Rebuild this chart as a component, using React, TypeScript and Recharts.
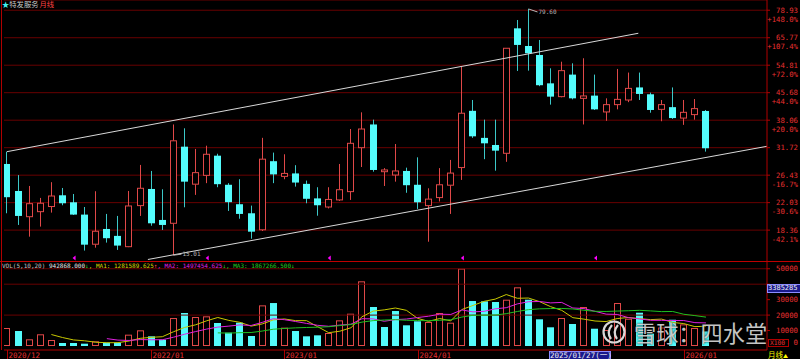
import React from "react";
import {
  ComposedChart,
  Bar,
  Line,
  XAxis,
  YAxis,
  CartesianGrid,
  ReferenceLine,
  ReferenceDot,
} from "recharts";

// monthly candles, 2020/12 .. 2026/03
const opens = [
  28.47, 23.8, 20.07, 20.75, 21.47, 23.13, 22.08, 20.35, 16.72, 18.5, 17.67, 16.45, 21.6, 24.12, 19.64, 19.21,
  31.93, 24.9, 26.4, 30.08, 24.8, 21.8, 20.53, 18.4, 29.0, 26.22, 26.74, 24.95, 22.66, 21.4, 22.43, 23.7,
  31.72, 37.0, 27.05, 26.46, 27.18, 24.8, 21.6, 22.78, 24.73, 27.8, 40.5, 33.85, 32.29, 30.56, 70.0, 62.26,
  58.66, 48.6, 44.5, 51.5, 44.0, 44.8, 40.2, 42.2, 43.52, 47.3, 45.2, 40.9, 41.5, 38.6, 39.5, 40.46,
];
const highs = [
  30.89, 26.45, 24.6, 22.73, 25.23, 24.28, 23.33, 21.4, 23.76, 20.44, 20.17, 23.8, 28.29, 27.18, 24.07, 37.0,
  36.07, 31.45, 32.14, 30.47, 25.07, 25.73, 21.6, 33.86, 30.7, 30.36, 28.24, 25.5, 24.4, 24.4, 28.47, 35.9,
  40.1, 38.2, 27.7, 32.5, 27.78, 29.75, 24.23, 27.7, 29.24, 54.29, 43.52, 38.2, 38.2, 61.33, 73.98, 79.6,
  64.79, 53.7, 56.1, 55.5, 57.4, 51.5, 44.0, 53.47, 52.2, 52.2, 45.7, 43.52, 47.3, 43.52, 43.8, 40.73,
];
const lows = [
  20.53, 19.0, 17.58, 18.79, 20.62, 21.65, 20.3, 16.03, 16.34, 16.9, 16.1, 16.4, 20.17, 18.9, 18.38, 15.55,
  21.36, 23.19, 25.07, 24.4, 20.85, 19.8, 17.34, 18.25, 25.07, 25.73, 24.5, 21.94, 20.2, 21.2, 22.28, 22.43,
  27.9, 27.05, 24.6, 25.32, 23.52, 21.13, 17.0, 22.2, 20.44, 25.61, 33.85, 29.39, 27.23, 28.88, 52.76, 52.87,
  47.7, 42.2, 44.3, 43.7, 37.0, 40.73, 37.9, 40.9, 42.9, 43.52, 40.0, 37.8, 38.4, 36.9, 38.2, 30.9,
];
const closes = [
  22.84, 20.17, 21.88, 21.94, 23.02, 21.94, 20.35, 16.67, 18.22, 17.4, 16.57, 21.55, 24.23, 19.21, 19.0, 33.2,
  25.32, 26.88, 30.36, 24.9, 22.1, 20.44, 18.17, 29.39, 26.57, 26.74, 25.17, 22.6, 21.65, 22.5, 24.0, 32.65,
  35.9, 27.36, 27.36, 27.18, 24.73, 22.08, 22.55, 24.8, 26.8, 39.86, 34.2, 32.65, 31.1, 61.33, 62.7, 59.32,
  48.0, 44.5, 52.87, 44.0, 44.7, 40.9, 42.2, 43.7, 47.0, 45.3, 40.73, 42.2, 38.6, 40.1, 41.1, 31.6,
];

// volume in x100 shares
const volumes = [
  11650, 9700, 4330, 7570, 3880, 1940, 1940, 1500, 3020, 2160, 2160, 7330, 10140, 6260, 4100, 18100,
  21350, 18760, 19200, 14880, 8620, 15100, 6470, 26300, 27800, 11860, 9700, 6260, 6900, 8410, 16600, 20900,
  41860, 25230, 12290, 22640, 13390, 15980, 15530, 21350, 15080, 50100, 29100, 28900, 28470, 29960, 37970, 29960,
  17270, 12100, 18110, 14230, 25230, 11190, 10350, 27820, 17660, 21540, 8000, 12000, 17000, 14000, 11650, 9430,
];
const volUp = [
  1, 0, 1, 1, 1, 0, 0, 0, 1, 0, 0, 1, 1, 0, 0, 1, 0, 1, 1, 0, 0, 0, 0, 1, 0, 1, 0, 0, 0, 1, 1, 1,
  1, 0, 0, 0, 0, 0, 1, 1, 1, 1, 0, 0, 0, 1, 1, 0, 0, 0, 1, 0, 1, 0, 1, 1, 1, 0, 0, 1, 0, 1, 1, 0,
];
const ma5 = [
  null, null, null, null, 7426, 5484, 3932, 3366, 2456, 2112, 2156, 3234, 4962, 5610, 5998, 9186,
  11990, 13714, 16302, 18458, 16562, 15312, 12854, 14274, 16858, 17506, 16426, 16384, 12504, 8626, 9574, 11814,
  18934, 22600, 23376, 24584, 23082, 17906, 15966, 17778, 16266, 23608, 26232, 28906, 30330, 33306, 30880, 31052,
  28726, 25452, 23082, 18334, 17388, 16172, 15822, 17764, 18450, 17712, 17074, 17404, 15240, 14508, 12530, 12816,
];
const ma10 = [
  null, null, null, null, null, null, null, null, null, 4769, 3820, 3583, 4164, 4033, 4055, 5671,
  7612, 9338, 10956, 12228, 12874, 13651, 13284, 15288, 17658, 17034, 15869, 14619, 13389, 12742, 13540, 14120,
  17659, 17552, 16001, 17079, 17448, 18420, 19283, 20577, 20425, 23345, 22069, 22436, 24054, 24786, 27244, 28642,
  28816, 27891, 28194, 24607, 24220, 22449, 20637, 20423, 18392, 17550, 16623, 16613, 16502, 16479, 15121, 14945,
];
const ma20 = [
  null, null, null, null, null, null, null, null, null, null, null, null, null, null, null, null,
  null, null, null, 8499, 8347, 8617, 8724, 9661, 10857, 11353, 11741, 11979, 12173, 12485, 13207, 13886,
  15472, 16420, 16830, 17057, 16659, 16520, 16336, 16660, 16983, 18733, 19864, 19994, 20028, 20933, 22346, 23531,
  24050, 24234, 24310, 23976, 23145, 22443, 22346, 22605, 22818, 23096, 22720, 22252, 22348, 20543, 19671, 18697,
];

const priceTicks = [18.36, 22.03, 26.43, 31.72, 38.06, 45.68, 54.81, 65.77, 78.93];
const pctLabels = ["-42.1%", "-30.6%", "-16.7%", "", "+20.0%", "+44.0%", "+72.0%", "+107.4%", "+148.0%"];
const volTicks = [0, 10000, 20000, 30000, 40000, 50000];
const hiddenVolLabel = 40000; // covered by the crosshair readout
const volGrid = [20000, 40000, 50000];
const dateTicks = [0, 13, 25, 37, 61];
const dateLabels = ["2020/12", "2022/01", "2023/01", "2024/01", "2026/01"];
const channelUpper = [
  { x: 0, y: 30.89 },
  { x: 56.9, y: 67.74 },
];
const channelLower = [
  { x: 12.7, y: 15.11 },
  { x: 68.5, y: 32.01 },
];
const markerIdx = [6, 18, 29, 41, 53];
const highMark = { i: 47, label: "79.60" };
const lowMark = { i: 15, label: "15.01" };

const X_DOMAIN = [-0.27, 68.5];
const P_DOMAIN = [14.86, 84.47];
const V_DOMAIN = [-2589, 54365];

const RED = "#e04848";
const CYAN = "#54fcfc";
const CYAN_WICK = "#3cc8c8";
const AXIS_RED = "#b00000";
const GRID_RED = "#680000";
const LABEL_RED = "#e83030";
const MONO = "'DejaVu Sans Mono', 'Noto Sans CJK SC', monospace";
const CJK = "'Noto Sans CJK SC', 'Noto Sans', sans-serif";

const rows = opens.map((o, i) => ({
  i,
  o,
  h: highs[i],
  l: lows[i],
  c: closes[i],
  range: [lows[i], highs[i]],
}));

const volRows = volumes.map((v, i) => ({
  i,
  v,
  up: volUp[i] === 1,
  ma5: ma5[i],
  ma10: ma10[i],
  ma20: ma20[i],
}));

function Candle(props: any) {
  const { x, y, width, height, payload } = props;
  if (x == null || !payload) return null;
  const { o, h, l, c } = payload;
  const lh = Math.log(h);
  const span = lh - Math.log(l) || 1;
  const yAt = (v: number) => y + ((lh - Math.log(v)) / span) * height;
  const left = Math.round(x);
  const w = Math.round(width);
  const cx = left + Math.floor(w / 2) + 0.5;
  const bt = yAt(Math.max(o, c));
  const bb = yAt(Math.min(o, c));
  if (c >= o) {
    return (
      <g>
        <line x1={cx} x2={cx} y1={y} y2={bt} stroke={RED} />
        <line x1={cx} x2={cx} y1={bb} y2={y + height} stroke={RED} />
        <rect x={left + 0.5} y={bt} width={w - 1} height={Math.max(bb - bt, 1)} fill="#000" stroke={RED} />
      </g>
    );
  }
  return (
    <g>
      <line x1={cx} x2={cx} y1={y} y2={y + height} stroke={CYAN_WICK} />
      <rect x={left} y={bt} width={w} height={Math.max(bb - bt, 1)} fill={CYAN} />
    </g>
  );
}

function VolBar(props: any) {
  const { x, y, width, height, payload } = props;
  if (x == null || !payload) return null;
  const left = Math.round(x);
  const w = Math.round(width);
  if (payload.up) {
    return <rect x={left + 0.5} y={y + 0.5} width={w - 1} height={Math.max(height - 1, 0)} fill="#000" stroke={RED} />;
  }
  return <rect x={left} y={y} width={w} height={height} fill={CYAN} />;
}

function PriceTick(props: any) {
  const { y, payload } = props;
  const k = priceTicks.indexOf(payload.value);
  const pct = pctLabels[k];
  return (
    <g fontFamily={MONO} fontSize={7.3} fill={LABEL_RED}>
      <line x1={767} x2={770} y1={y} y2={y} stroke={AXIS_RED} />
      <text x={798} y={y} textAnchor="end" dominantBaseline="central">
        {payload.value.toFixed(2)}
      </text>
      {pct ? (
        <text x={798} y={y + 9.2} textAnchor="end" dominantBaseline="central">
          {pct}
        </text>
      ) : null}
    </g>
  );
}

function VolTick(props: any) {
  const { y, payload } = props;
  const v = payload.value;
  if (v === 0) {
    return (
      <g fontFamily={MONO} fill={LABEL_RED}>
        <rect x={768.5} y={y - 6.5} width={20} height={7} fill="#000" stroke={AXIS_RED} />
        <text x={770} y={y - 3} fontSize={6.3} dominantBaseline="central">X100</text>
        <text x={798} y={y - 3} fontSize={7.3} textAnchor="end" dominantBaseline="central">0</text>
      </g>
    );
  }
  return (
    <g fontFamily={MONO} fontSize={7.3} fill={LABEL_RED}>
      <line x1={767} x2={770} y1={y} y2={y} stroke={AXIS_RED} />
      {v === hiddenVolLabel ? null : (
        <text x={798} y={y} textAnchor="end" dominantBaseline="central">
          {v}
        </text>
      )}
    </g>
  );
}

function DateTick(props: any) {
  const { x, payload } = props;
  const k = dateTicks.indexOf(payload.value);
  return (
    <g>
      <line x1={Math.round(x) + 0.5} x2={Math.round(x) + 0.5} y1={88} y2={97} stroke={AXIS_RED} />
      <text x={Math.round(x) + 1.5} y={93} fontFamily={MONO} fontSize={7.5} fill={LABEL_RED} dominantBaseline="central">
        {dateLabels[k]}
      </text>
    </g>
  );
}

function Marker(props: any) {
  const { cx, cy } = props;
  if (cx == null) return null;
  const y0 = cy - 4;
  return <path d={`M${cx - 1} ${y0} L${cx + 2} ${y0 - 2.5} L${cx + 2} ${y0 + 2.5} Z`} fill="#ff00ff" />;
}

function HighLabel(props: any) {
  const { cx, cy } = props;
  if (cx == null) return null;
  const x0 = Math.round(cx) + 0.5;
  return (
    <g>
      <line x1={x0} y1={cy} x2={x0 + 9} y2={cy + 3} stroke="#b8b8b8" />
      <text x={x0 + 10} y={cy + 3} fontFamily={MONO} fontSize={6} fill="#b8b8b8" dominantBaseline="central">
        {highMark.label}
      </text>
    </g>
  );
}

function LowLabel(props: any) {
  const { cx, cy } = props;
  if (cx == null) return null;
  const x0 = Math.round(cx) + 0.5;
  return (
    <g>
      <line x1={x0} y1={cy} x2={x0 + 8} y2={cy - 1} stroke="#b8b8b8" />
      <text x={x0 + 9} y={cy - 2} fontFamily={MONO} fontSize={6} fill="#b8b8b8" dominantBaseline="central">
        {lowMark.label}
      </text>
    </g>
  );
}

export default function App() {
  return (
    <div
      style={{
        position: "fixed",
        left: 0,
        top: 0,
        width: 800,
        height: 359,
        background: "#000",
        overflow: "hidden",
      }}
    >
      <div style={{ position: "absolute", left: 0, top: 0 }}>
        <ComposedChart width={800} height={262} data={rows} margin={{ top: 0, right: 0, bottom: 0, left: 4 }}>
          <CartesianGrid vertical={false} stroke={GRID_RED} />
          <XAxis type="number" dataKey="i" domain={X_DOMAIN} allowDataOverflow hide />
          <YAxis
            orientation="right"
            width={33}
            type="number"
            scale="log"
            domain={P_DOMAIN}
            allowDataOverflow
            ticks={priceTicks}
            interval={0}
            tick={<PriceTick />}
            tickLine={false}
            axisLine={{ stroke: AXIS_RED }}
          />
          <ReferenceLine segment={channelUpper} stroke="#d8d8d8" ifOverflow="visible" />
          <ReferenceLine segment={channelLower} stroke="#d8d8d8" ifOverflow="visible" />
          <Bar dataKey="range" barSize={7} shape={<Candle />} isAnimationActive={false} />
          {markerIdx.map((m) => (
            <ReferenceDot key={m} x={m} y={P_DOMAIN[0]} ifOverflow="visible" shape={<Marker />} />
          ))}
          <ReferenceDot x={highMark.i} y={highs[highMark.i]} ifOverflow="visible" shape={<HighLabel />} />
          <ReferenceDot x={lowMark.i} y={lows[lowMark.i]} ifOverflow="visible" shape={<LowLabel />} />
        </ComposedChart>
      </div>

      <div style={{ position: "absolute", left: 0, top: 262 }}>
        <ComposedChart width={800} height={97} data={volRows} margin={{ top: 0, right: 0, bottom: 0, left: 4 }}>
          {volGrid.map((g) => (
            <ReferenceLine key={g} y={g} stroke={GRID_RED} />
          ))}
          <XAxis
            type="number"
            dataKey="i"
            domain={X_DOMAIN}
            allowDataOverflow
            ticks={dateTicks}
            interval={0}
            height={9}
            tick={<DateTick />}
            tickLine={false}
            axisLine={{ stroke: AXIS_RED }}
          />
          <YAxis
            orientation="right"
            width={33}
            type="number"
            domain={V_DOMAIN}
            allowDataOverflow
            ticks={volTicks}
            interval={0}
            tick={<VolTick />}
            tickLine={false}
            axisLine={{ stroke: AXIS_RED }}
          />
          <Bar dataKey="v" barSize={7} shape={<VolBar />} isAnimationActive={false} />
          <Line dataKey="ma5" type="linear" stroke="#c8c800" dot={false} strokeWidth={1} isAnimationActive={false} />
          <Line dataKey="ma10" type="linear" stroke="#e020e0" dot={false} strokeWidth={1} isAnimationActive={false} />
          <Line dataKey="ma20" type="linear" stroke="#20c020" dot={false} strokeWidth={1} isAnimationActive={false} />
        </ComposedChart>
      </div>

      {/* frame lines */}
      <div style={{ position: "absolute", left: 1, top: 0, width: 1, height: 350, background: AXIS_RED }} />
      <div style={{ position: "absolute", left: 0, top: 261, width: 800, height: 1, background: "#c00000" }} />

      {/* title */}
      <div
        style={{
          position: "absolute",
          left: 2,
          top: 0,
          fontFamily: CJK,
          fontSize: 7.3,
          lineHeight: "9px",
          whiteSpace: "nowrap",
        }}
      >
        <span style={{ color: "#40f0f0" }}>★</span>
        <span style={{ color: "#c8c8c8" }}>特发服务</span>
        <span style={{ color: "#ff4040", marginLeft: 1 }}>月线</span>
      </div>

      {/* volume header */}
      <div
        style={{
          position: "absolute",
          left: 2,
          top: 262,
          fontFamily: MONO,
          fontSize: 6,
          lineHeight: "7px",
          whiteSpace: "pre",
        }}
      >
        <span style={{ color: "#c0c0c0" }}>VOL(5,10,20) </span>
        <span style={{ color: "#e8e8e8" }}>942868.000</span>
        <span style={{ color: "#20d020" }}>↓</span>
        <span style={{ color: "#d8d800" }}>, MA1: 1281589.625</span>
        <span style={{ color: "#ff4040" }}>↑</span>
        <span style={{ color: "#e020e0" }}>, MA2: 1497454.625</span>
        <span style={{ color: "#20d020" }}>↓</span>
        <span style={{ color: "#20d020" }}>, MA3: 1867266.500↓</span>
      </div>

      {/* crosshair readouts */}
      <div
        style={{
          position: "absolute",
          left: 767,
          top: 284,
          width: 32,
          height: 7,
          background: "#1a1a8c",
          border: "1px solid #8c8cff",
          color: "#f0f0f0",
          fontFamily: MONO,
          fontSize: 7,
          lineHeight: "7px",
          overflow: "hidden",
          whiteSpace: "nowrap",
        }}
      >
        3385285
      </div>
      <div
        style={{
          position: "absolute",
          left: 549,
          top: 351,
          width: 60,
          height: 8,
          background: "#1a1a8c",
          border: "1px solid #8c8cff",
          color: "#f0f0f0",
          fontFamily: MONO,
          fontSize: 7.5,
          lineHeight: "8px",
          textAlign: "center",
          whiteSpace: "nowrap",
        }}
      >
        2025/01/27(一)
      </div>
      <div
        style={{
          position: "absolute",
          left: 768,
          top: 350,
          fontFamily: CJK,
          fontSize: 7.5,
          lineHeight: "9px",
          color: "#ffff00",
          whiteSpace: "nowrap",
        }}
      >
        月线<span style={{ fontSize: 5 }}>▲</span>
      </div>

      {/* watermark */}
      <svg style={{ position: "absolute", left: 600, top: 318 }} width={30} height={30}>
        <circle cx={14} cy={14} r={10.5} fill="none" stroke="#d8d8d8" strokeWidth={2.2} />
        <path d="M12 7 Q6 14 11 21" fill="none" stroke="#d8d8d8" strokeWidth={2.2} />
        <path d="M18 7 Q12 14 17 21" fill="none" stroke="#d8d8d8" strokeWidth={2.2} />
      </svg>
      <div
        style={{
          position: "absolute",
          left: 634,
          top: 318,
          fontFamily: CJK,
          fontSize: 22.2,
          lineHeight: "28px",
          color: "rgba(225,225,225,0.88)",
          textShadow: "0 0 2px #000",
          whiteSpace: "nowrap",
        }}
      >
        雪球：四水堂
      </div>
    </div>
  );
}
